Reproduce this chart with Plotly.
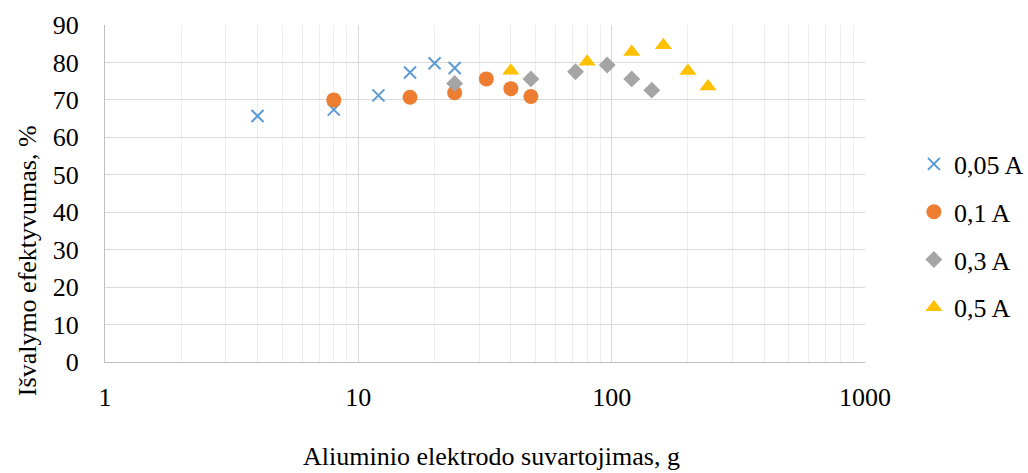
import plotly.graph_objects as go

# Aluminium electrode consumption (g) vs. treatment efficiency (%) for four currents
x_005 = [4, 8, 12, 16, 20, 24]
y_005 = [65.7, 67.4, 71.2, 77.3, 79.8, 78.5]

x_01 = [8, 16, 24, 32, 40, 48]
y_01 = [70.0, 70.7, 71.9, 75.6, 73.0, 70.9]

x_03 = [24, 48, 72, 96, 120, 144]
y_03 = [74.4, 75.6, 77.5, 79.3, 75.6, 72.6]

x_05 = [40, 80, 120, 160, 200, 240]
y_05 = [77.8, 80.2, 82.8, 84.6, 77.7, 73.6]

series_names = ["0,05 A", "0,1 A", "0,3 A", "0,5 A"]
x_tick_vals = [1, 10, 100, 1000]
x_tick_text = ["1", "10", "100", "1000"]
y_tick_vals = list(range(0, 100, 10))
x_title = "Aliuminio elektrodo suvartojimas, g"
y_title = "Išvalymo efektyvumas, %"

FONT = "Liberation Serif, Times New Roman, serif"
FS = 26

fig = go.Figure()

styles = [
    (x_005, y_005, "x-thin", "#5B9BD5", 12, 2),
    (x_01, y_01, "circle", "#ED7D31", 15, 0),
    (x_03, y_03, "diamond", "#A5A5A5", 13, 0),
    (x_05, y_05, "triangle-up", "#FFC000", 15, 0),
]

for i, (xs, ys, sym, col, size, lw) in enumerate(styles):
    fig.add_trace(go.Scatter(
        x=xs, y=ys, mode="markers", name=series_names[i],
        legendgroup=f"g{i}",
        marker=dict(symbol=sym, color=col, size=size,
                    line=dict(color=col, width=lw)),
    ))

fig.update_layout(
    width=1028, height=473,
    margin=dict(l=105, r=163, t=25, b=111, autoexpand=False),
    paper_bgcolor="white", plot_bgcolor="white",
    font=dict(family=FONT, size=FS, color="#000000"),
    showlegend=True,
    legend=dict(
        xref="container", yref="container",
        x=0.889, xanchor="left", y=1 - 236 / 473, yanchor="middle",
        font=dict(family=FONT, size=FS, color="#000000"),
        tracegroupgap=11, itemwidth=30,
        bgcolor="rgba(0,0,0,0)",
    ),
    xaxis=dict(
        type="log", range=[0, 3],
        tickvals=x_tick_vals, ticktext=x_tick_text,
        showgrid=True, gridcolor="#D9D9D9", gridwidth=1.3,
        minor=dict(dtick="D1", showgrid=True, gridcolor="#EDEDED",
                   gridwidth=1, ticks=""),
        showline=True, linecolor="#BFBFBF", linewidth=1.3,
        zeroline=False, ticks="",
        ticklabelstandoff=12,
        tickfont=dict(family=FONT, size=FS),
    ),
    yaxis=dict(
        range=[0, 90], tickvals=y_tick_vals,
        showgrid=True, gridcolor="#D9D9D9", gridwidth=1,
        showline=True, linecolor="#BFBFBF", linewidth=1.3,
        zeroline=False, ticks="",
        ticklabelstandoff=20,
        tickfont=dict(family=FONT, size=FS),
    ),
    annotations=[
        dict(text=x_title, xref="paper", yref="paper",
             x=0.508, y=-0.28, xanchor="center", yanchor="middle",
             showarrow=False, font=dict(family=FONT, size=FS)),
        dict(text=y_title, xref="paper", yref="paper", textangle=-90,
             x=-0.101, y=0.30, xanchor="center", yanchor="middle",
             showarrow=False, font=dict(family=FONT, size=FS)),
    ],
)

fig.write_html("out.html")
